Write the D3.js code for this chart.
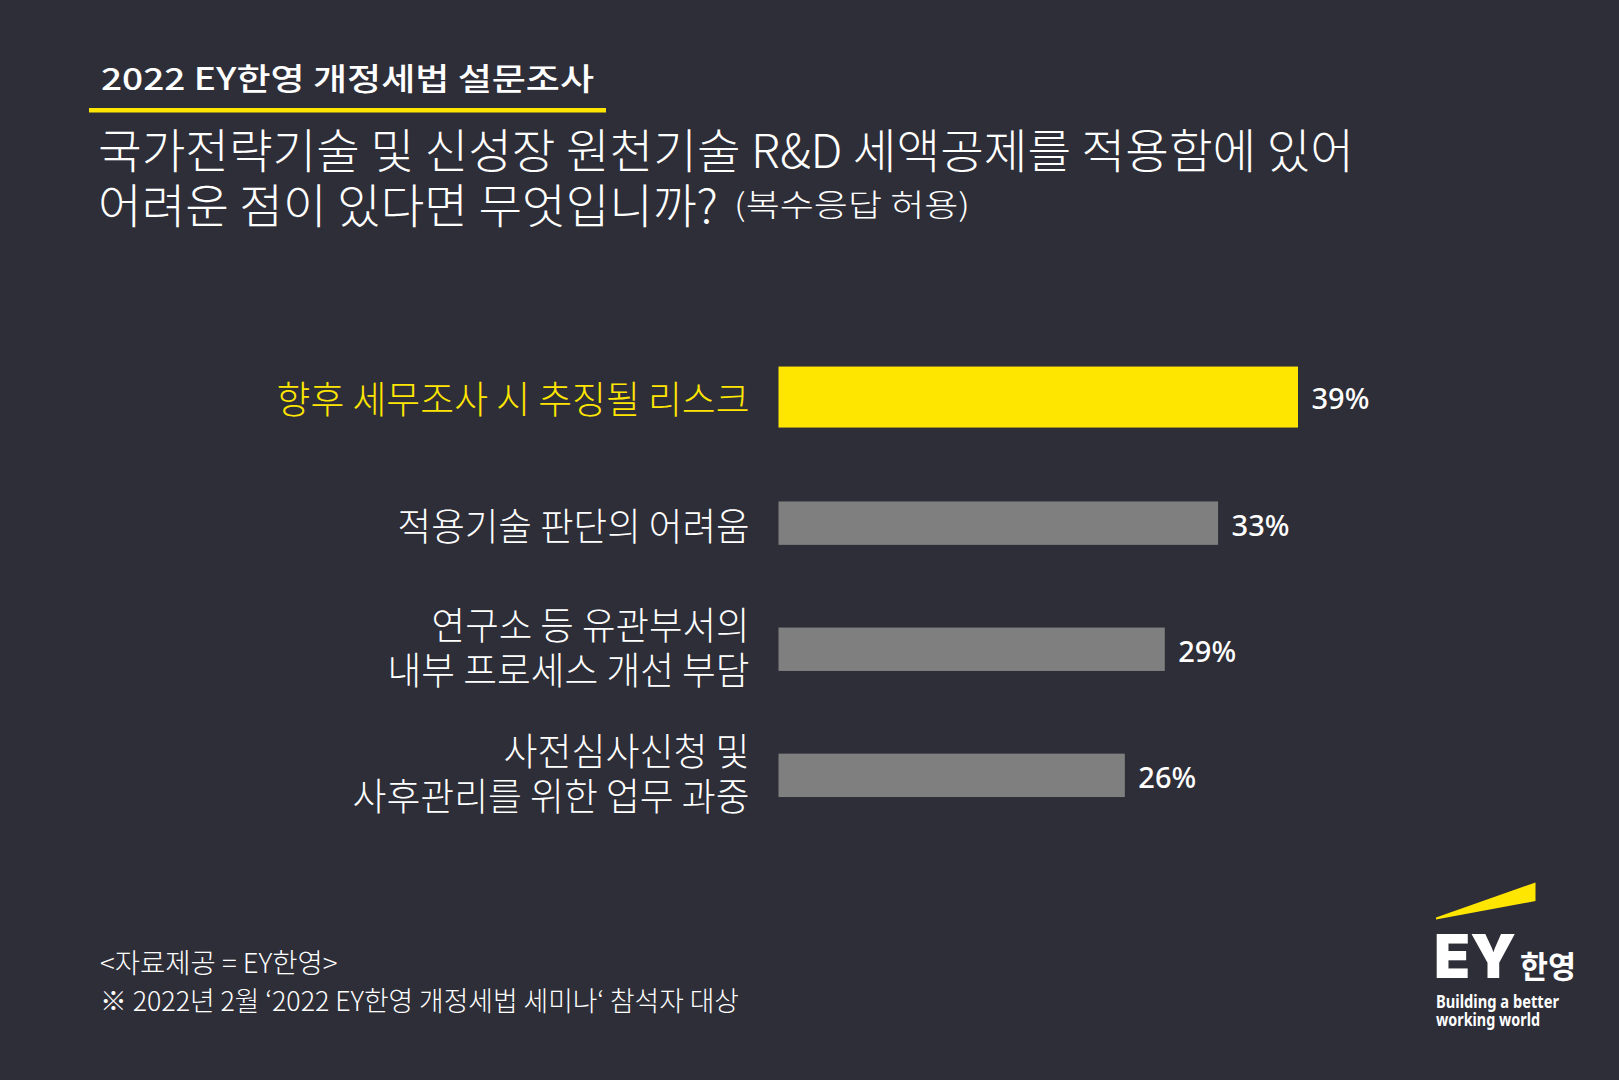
<!DOCTYPE html>
<html><head><meta charset="utf-8">
<script src="https://cdn.jsdelivr.net/npm/d3@7/dist/d3.min.js"></script>
<style>
html,body{margin:0;padding:0;background:#2e2e38;overflow:hidden;}
svg{display:block;}
</style></head><body>
<svg id="chart" width="1619" height="1080"></svg>
<script>
// ---- data ----
const categories = [
  ["향후 세무조사 시 추징될 리스크"],
  ["적용기술 판단의 어려움"],
  ["연구소 등 유관부서의", "내부 프로세스 개선 부담"],
  ["사전심사신청 및", "사후관리를 위한 업무 과중"]
];
const values = [39, 33, 29, 26];
const highlight = [true, false, false, false];
const subtitle = "2022 EY한영 개정세법 설문조사";
const questionLines = ["국가전략기술 및 신성장 원천기술 R&D 세액공제를 적용함에 있어", "어려운 점이 있다면 무엇입니까?"];
const questionNote = "(복수응답 허용)";
const footnotes = ["<자료제공 = EY한영>", "※ 2022년 2월 ‘2022 EY한영 개정세법 세미나‘ 참석자 대상"];
const logoTagline = ["Building a better", "working world"];

// ---- layout (measured widths of text lines in the reference) ----
const labelWidths = [[473], [352], [318, 362], [246, 397]];
const KR = "'Noto Sans CJK KR','Noto Sans',sans-serif";
const YELLOW = "#ffe600", GREY = "#7f7f7f", BG = "#2e2e38";

const svg = d3.select("#chart");
svg.append("rect").attr("width", 1619).attr("height", 1080).attr("fill", BG);

function fitText(sel, w) { sel.attr("textLength", w).attr("lengthAdjust", "spacingAndGlyphs"); return sel; }

// subtitle + underline
fitText(svg.append("text").attr("x", 101).attr("y", 79).attr("dy", "0.37em")
  .attr("font-family", KR).attr("font-weight", 500).attr("font-size", 31).attr("fill", "#fff")
  .text(subtitle), 493);
svg.append("rect").attr("x", 89).attr("y", 108).attr("width", 517).attr("height", 4.5).attr("fill", YELLOW);

// question
fitText(svg.append("text").attr("x", 98).attr("y", 150.5).attr("dy", "0.38em")
  .attr("font-family", KR).attr("font-weight", 300).attr("font-size", 47).attr("fill", "#fff")
  .text(questionLines[0]), 1256);
fitText(svg.append("text").attr("x", 98).attr("y", 205).attr("dy", "0.38em")
  .attr("font-family", KR).attr("font-weight", 300).attr("font-size", 47).attr("fill", "#fff")
  .text(questionLines[1]), 620);
fitText(svg.append("text").attr("x", 734).attr("y", 204).attr("dy", "0.38em")
  .attr("font-family", KR).attr("font-weight", 300).attr("font-size", 31).attr("fill", "#fff")
  .text(questionNote), 236);

// scales
const x = d3.scaleLinear().domain([0, 39]).range([778.5, 1298]);
const y = d3.scaleBand().domain(d3.range(categories.length)).range([334, 838.4]).paddingInner(0).paddingOuter(0);
const barH = i => highlight[i] ? 61 : 43.4;
const cy = i => y(i) + y.bandwidth() / 2;

const g = svg.append("g");
g.selectAll("rect.bar").data(values).join("rect").attr("class", "bar")
  .attr("x", x(0)).attr("y", (d, i) => cy(i) - barH(i) / 2)
  .attr("width", d => x(d) - x(0)).attr("height", (d, i) => barH(i))
  .attr("fill", (d, i) => highlight[i] ? YELLOW : GREY);

g.selectAll("text.val").data(values).join("text").attr("class", "val")
  .attr("x", d => x(d) + 13.5).attr("y", (d, i) => cy(i) + 2).attr("dy", "0.357em")
  .attr("font-family", "'Noto Sans',sans-serif").attr("font-weight", 500).attr("font-size", 29)
  .attr("fill", "#fff").text(d => d + "%");

categories.forEach((lines, i) => {
  const offs = lines.length === 1 ? [2] : [-24.5, 20];
  lines.forEach((ln, j) => {
    fitText(g.append("text").attr("x", 749.6).attr("y", cy(i) + offs[j]).attr("dy", "0.38em")
      .attr("text-anchor", "end").attr("font-family", KR).attr("font-weight", 300).attr("font-size", 38)
      .attr("fill", highlight[i] ? YELLOW : "#fff").text(ln), labelWidths[i][j]);
  });
});

// footnotes
fitText(svg.append("text").attr("x", 100).attr("y", 963).attr("dy", "0.38em")
  .attr("font-family", KR).attr("font-weight", 300).attr("font-size", 27).attr("fill", "#fff")
  .text(footnotes[0]), 237.5);
fitText(svg.append("text").attr("x", 100).attr("y", 1000.5).attr("dy", "0.38em")
  .attr("font-family", KR).attr("font-weight", 300).attr("font-size", 27).attr("fill", "#fff")
  .text(footnotes[1]), 639);

// logo
const logo = svg.append("g");
logo.append("path").attr("d", "M1436,917.5 L1535.5,882.5 L1535.5,901 L1436,919.5 Z").attr("fill", YELLOW);
fitText(logo.append("text").attr("x", 1434).attr("y", 978).attr("font-family", "Inter,'DejaVu Sans',sans-serif")
  .attr("font-weight", 900).attr("font-size", 60).attr("fill", "#fff").text("EY"), 82);
fitText(logo.append("text").attr("x", 1520).attr("y", 966).attr("dy", "0.38em").attr("font-family", KR)
  .attr("font-weight", 700).attr("font-size", 31).attr("fill", "#fff").text("한영"), 56);
fitText(logo.append("text").attr("x", 1436).attr("y", 1008).attr("font-family", "'Noto Sans',sans-serif")
  .attr("font-weight", 700).attr("font-size", 18).attr("fill", "#fff").text(logoTagline[0]), 123);
fitText(logo.append("text").attr("x", 1436).attr("y", 1025.5).attr("font-family", "'Noto Sans',sans-serif")
  .attr("font-weight", 700).attr("font-size", 18).attr("fill", "#fff").text(logoTagline[1]), 104);
</script>
</body></html>
